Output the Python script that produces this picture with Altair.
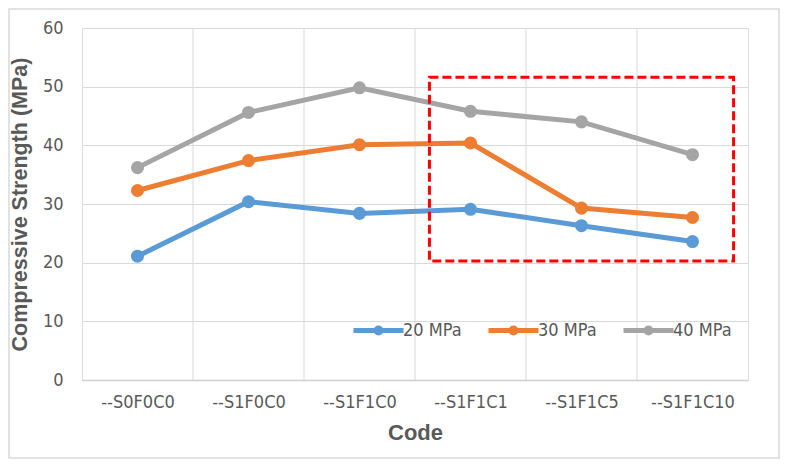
import json
import altair as alt
import pandas as pd

codes = ["--S0F0C0", "--S1F0C0", "--S1F1C0", "--S1F1C1", "--S1F1C5", "--S1F1C10"]
s20 = [21.1, 30.4, 28.4, 29.1, 26.3, 23.6]
s30 = [32.3, 37.4, 40.1, 40.4, 29.3, 27.7]
s40 = [36.2, 45.6, 49.8, 45.8, 44.0, 38.4]
series_names = ["20 MPa", "30 MPa", "40 MPa"]
series_colors = ["#5B9BD5", "#ED7D31", "#A5A5A5"]
y_ticks = [0, 10, 20, 30, 40, 50, 60]
x_bounds = [0.5, 1.5, 2.5, 3.5, 4.5]
box_x = [2.63, 5.37]
box_y = [20.3, 51.6]

rows = []
for name, vals in zip(series_names, [s20, s30, s40]):
    for i, v in enumerate(vals):
        rows.append({"idx": i, "code": codes[i], "value": v, "series": name})
df = pd.DataFrame(rows)

W, H = 666, 352
narrow = "DejaVu Sans Condensed, Liberation Sans Narrow, Liberation Sans, sans-serif"
bold = "Liberation Sans, Arial, sans-serif"
grey_txt = "#595959"

xscale = alt.Scale(domain=[-0.5, 5.5], nice=False, zero=False)
yscale = alt.Scale(domain=[0, 60], nice=False)

label_expr = json.dumps(codes) + "[round(datum.value)]"

x_axis = alt.Axis(
    values=list(range(len(codes))),
    labelExpr=label_expr,
    grid=False,
    ticks=False,
    domain=True,
    domainColor="#d0d0d0",
    domainWidth=1.5,
    labelFont=narrow,
    labelFontSize=18,
    labelColor=grey_txt,
    labelPadding=13,
    title="Code",
    titleFont=bold,
    titleFontSize=22,
    titleFontWeight="bold",
    titleColor=grey_txt,
    titlePadding=11,
)

y_axis = alt.Axis(
    values=y_ticks,
    grid=True,
    gridColor="#d9d9d9",
    gridWidth=1,
    ticks=False,
    domain=False,
    labelFont=narrow,
    labelFontSize=18,
    labelColor=grey_txt,
    labelPadding=19,
    title="Compressive Strength (MPa)",
    titleFont=bold,
    titleFontSize=21.5,
    titleFontWeight="bold",
    titleColor=grey_txt,
    titlePadding=11,
)

lines = alt.Chart(df).mark_line(
    strokeWidth=5,
    point=alt.OverlayMarkDef(filled=True, size=170),
).encode(
    x=alt.X("idx:Q", scale=xscale, axis=x_axis),
    y=alt.Y("value:Q", scale=yscale, axis=y_axis),
    color=alt.Color(
        "series:N",
        scale=alt.Scale(domain=series_names, range=series_colors),
        legend=alt.Legend(
            title=None,
            orient="none",
            direction="horizontal",
            legendX=284,
            legendY=290,
            symbolType="M-2.5,0L2.5,0M0.25,0A0.25,0.25,0,1,1,-0.25,0A0.25,0.25,0,1,1,0.25,0",
            symbolSize=400,
            symbolStrokeWidth=5,
            labelFont=narrow,
            labelFontSize=18,
            labelColor=grey_txt,
            labelOffset=12,
            columnPadding=16,
            padding=0,
        ),
    ),
    order="idx:Q",
)

grid = alt.Chart(pd.DataFrame({"b": x_bounds})).mark_rule(
    color="#d9d9d9", strokeWidth=1
).encode(x=alt.X("b:Q", scale=xscale, axis=x_axis))

box = alt.Chart(
    pd.DataFrame({"x1": [box_x[0]], "x2": [box_x[1]], "y1": [box_y[0]], "y2": [box_y[1]]})
).mark_rect(
    fill=None, fillOpacity=0, stroke="#FF0000", strokeWidth=3, strokeDash=[9, 4]
).encode(
    x=alt.X("x1:Q", scale=xscale, axis=x_axis),
    x2="x2:Q",
    y=alt.Y("y1:Q", scale=yscale, axis=y_axis),
    y2="y2:Q",
)

frame = alt.Chart(pd.DataFrame({"a": [0]})).mark_rect(
    fill=None, fillOpacity=0, stroke="#d9d9d9", strokeWidth=1.5, clip=False
).encode(
    x=alt.value(-73), x2=alt.value(697), y=alt.value(-19), y2=alt.value(430)
)

chart = alt.layer(grid, lines, box, frame).properties(
    width=W,
    height=H,
    autosize=alt.AutoSizeParams(type="none"),
    padding={"left": 74, "top": 20, "right": 32, "bottom": 79},
).configure_view(stroke="#d9d9d9", strokeWidth=1).configure(background="white")

chart.save("out.html", embed_options={"renderer": "svg", "actions": False})
